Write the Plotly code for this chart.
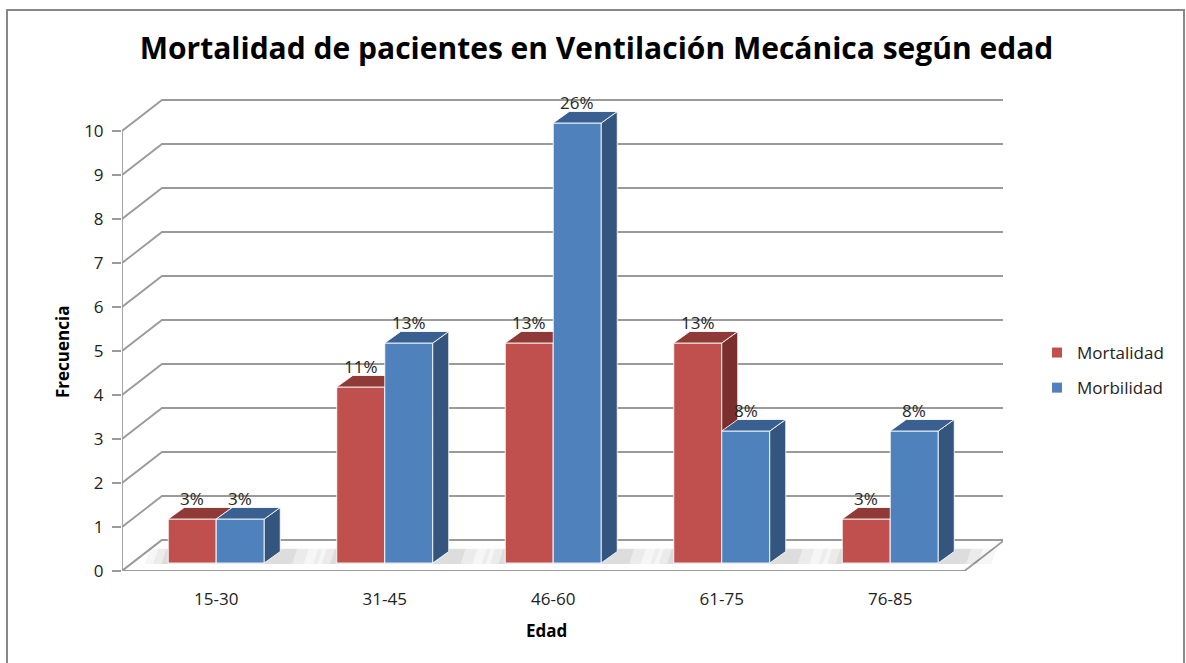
import plotly.graph_objects as go

# ---- data ----
categories = ["15-30", "31-45", "46-60", "61-75", "76-85"]
mortalidad = [1, 4, 5, 5, 1]
morbilidad = [1, 5, 10, 3, 3]
mort_labels = ["3%", "11%", "13%", "13%", "3%"]
morb_labels = ["3%", "13%", "26%", "8%", "8%"]
y_ticks = list(range(0, 11))

# ---- pseudo-3D geometry (in axis units) ----
PXX, PXY = 168.5, 44.0          # pixels per unit on x / y
DX, DY = 40 / PXX, 31 / PXY      # back-wall offset
OX, OY = 10 / PXX, 8 / PXY       # bar front-face offset from front plane
BW = 48 / PXX                    # bar width
DDX, DDY = 16 / PXX, 11.5 / PXY  # bar depth
N = len(categories)
XMAX = 881 / PXX
YMAX = 473 / PXY

RED = dict(front="#C0504D", top="#8F3A37", side="#7B2F2C")
BLUE = dict(front="#4F81BD", top="#3A6091", side="#34557E")
GRID = "#9a9a9a"

fig = go.Figure()
shapes = []

# walls: gridlines on left side wall and back wall
for v in y_ticks:
    shapes.append(dict(type="path", xref="x", yref="y", layer="below",
                       path=f"M 0,{v} L {DX},{v + DY} L {XMAX},{v + DY}",
                       line=dict(color=GRID, width=1.8)))
# floor
shapes.append(dict(type="path", xref="x", yref="y", layer="below",
                   path=f"M 0,0 L {N},0 L {N + DX},{DY} L {DX},{DY} Z",
                   fillcolor="#ffffff", line=dict(color=GRID, width=1.8)))
# vertical axis line
shapes.append(dict(type="line", xref="x", yref="y", layer="above",
                   x0=0, x1=0, y0=0, y1=10, line=dict(color=GRID, width=1.8)))
# outer chart border
shapes.append(dict(type="rect", xref="paper", yref="paper",
                   x0=(7 - 122) / 881, x1=(1184 - 122) / 881,
                   y0=(571 - 680) / 473, y1=(571 - 10) / 473,
                   line=dict(color="#888888", width=2)))


def poly(xs, ys, color, edge="rgba(255,255,255,0.85)"):
    fig.add_trace(go.Scatter(x=xs + [xs[0]], y=ys + [ys[0]], mode="lines",
                             fill="toself", fillcolor=color,
                             line=dict(color=edge, width=1 if edge else 0),
                             hoverinfo="skip", showlegend=False))


# soft floor shadows (layered to fake a blur)
for i in range(N):
    c = i + 0.5 + OX
    for kl, kr, a in ((0.14, 0.22, 0.035), (0.09, 0.14, 0.045), (0.04, 0.07, 0.06)):
        x0, x1 = c - BW - kl, c + BW + DDX + kr
        yb0, yb1 = OY - 0.02, OY + DDY + 0.06
        poly([x0, x1, x1 + 0.03, x0 + 0.03], [yb0, yb0, yb1, yb1],
             f"rgba(0,0,0,{a})", edge="rgba(0,0,0,0)")


def bar3d(x0, val, col):
    x1 = x0 + BW
    b, t = OY, OY + val
    poly([x0, x1, x1, x0], [b, b, t, t], col["front"])
    poly([x1, x1 + DDX, x1 + DDX, x1], [b, b + DDY, t + DDY, t], col["side"])
    poly([x0, x1, x1 + DDX, x0 + DDX], [t, t, t + DDY, t + DDY], col["top"])


annotations = []
for i in range(N):
    c = i + 0.5 + OX
    bar3d(c - BW, mortalidad[i], RED)
    bar3d(c, morbilidad[i], BLUE)
    annotations.append(dict(x=c - BW / 2, y=OY + mortalidad[i], xref="x", yref="y",
                            text=mort_labels[i], showarrow=False, yshift=21,
                            font=dict(size=17, color="#262626")))
    annotations.append(dict(x=c + BW / 2, y=OY + morbilidad[i], xref="x", yref="y",
                            text=morb_labels[i], showarrow=False, yshift=21,
                            font=dict(size=17, color="#262626")))

# legend entries
fig.add_trace(go.Scatter(x=[None], y=[None], mode="markers", name="Mortalidad",
                         legendgroup="a",
                         marker=dict(symbol="square", size=10, color=RED["front"])))
fig.add_trace(go.Scatter(x=[None], y=[None], mode="markers", name="Morbilidad",
                         legendgroup="b",
                         marker=dict(symbol="square", size=10, color=BLUE["front"])))

annotations.append(dict(text="<b>Frecuencia</b>", xref="paper", yref="y",
                        x=(62 - 122) / 881, y=(571 - 352) / PXY, textangle=-90,
                        xanchor="center", yanchor="middle",
                        showarrow=False, font=dict(size=17, color="#000")))
annotations.append(dict(text="<b>Edad</b>", xref="x", yref="paper",
                        x=N / 2 + 0.02, y=(571 - 630) / 473, xanchor="center", yanchor="middle",
                        showarrow=False, font=dict(size=17, color="#000")))

fig.update_layout(
    width=1186, height=663,
    margin=dict(l=122, r=183, t=98, b=92),
    paper_bgcolor="white", plot_bgcolor="white",
    font=dict(family="Open Sans, Noto Sans, sans-serif", color="#222"),
    title=dict(text="<b>Mortalidad de pacientes en Ventilación Mecánica según edad</b>",
               x=(135 + 1058) / 2 / 1186, xanchor="center", xref="container",
               y=1 - 48 / 663, yanchor="middle",
               font=dict(size=30, color="#000")),
    shapes=shapes, annotations=annotations,
    legend=dict(x=(1037 - 122) / 881, y=(571 - 335) / 473, xanchor="left", yanchor="top",
                font=dict(size=17, color="#222"), tracegroupgap=10,
                bgcolor="rgba(0,0,0,0)"),
    xaxis=dict(range=[0, XMAX], tickvals=[i + 0.5 + OX for i in range(N)],
               ticktext=categories, showgrid=False, zeroline=False, showline=False,
               ticks="", ticklabelstandoff=16, tickfont=dict(size=17, color="#222"),
               fixedrange=True),
    yaxis=dict(range=[0, YMAX], tickvals=y_ticks, showgrid=False, zeroline=False,
               showline=False, ticks="outside", ticklen=9, tickcolor=GRID, tickwidth=1.8,
               ticklabelstandoff=5, tickfont=dict(size=17, color="#222"), fixedrange=True),
)

fig.write_html("out.html", config={"displayModeBar": False},
               post_script="document.body.style.margin='0';document.body.style.overflow='hidden';")
